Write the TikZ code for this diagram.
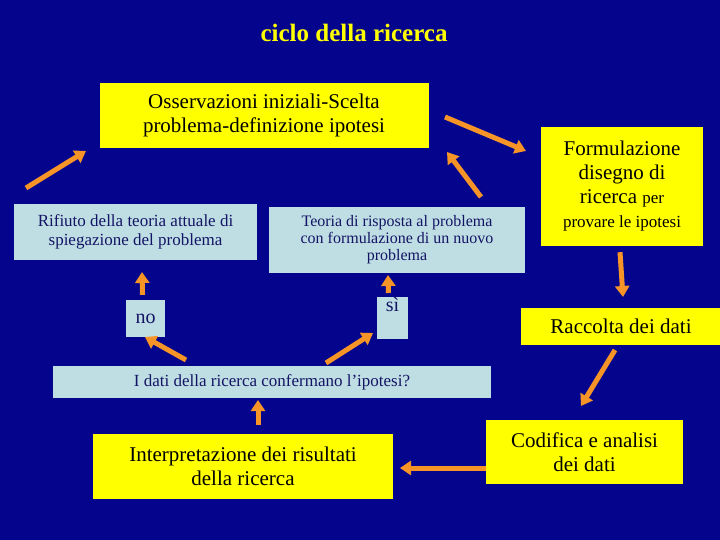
\documentclass[tikz,border=0pt]{standalone}
\usepackage{fontspec}
\setmainfont{Liberation Serif}
\usetikzlibrary{arrows.meta}
\definecolor{bg}{RGB}{4,4,140}
\definecolor{ylw}{RGB}{255,255,0}
\definecolor{lblue}{RGB}{190,222,228}
\definecolor{navy}{RGB}{20,20,100}
\definecolor{orng}{RGB}{247,148,40}
\tikzset{
  ybox/.style={fill=ylw,text=black,align=center,inner sep=0pt,font=\fontsize{21}{24}\selectfont},
  bbox/.style={fill=lblue,text=navy,align=center,inner sep=0pt,font=\fontsize{17}{19}\selectfont},
  arr/.style={draw=orng,line width=5pt,-{Triangle[width=14pt,length=11pt]}}
}
\begin{document}
\begin{tikzpicture}[x=1pt,y=-1pt]
\fill[bg] (0,0) rectangle (720,540);
\useasboundingbox (0,0) rectangle (720,540);
\node[text=ylw,font=\bfseries\fontsize{25}{28}\selectfont] (title) at (354,33) {ciclo della ricerca};
\node[ybox,minimum width=329pt,minimum height=65pt] (oss) at (264,115.5) {Osservazioni iniziali-Scelta\\problema-definizione ipotesi};
\node[bbox,minimum width=243pt,minimum height=56pt] (rif) at (135.5,232) {Rifiuto della teoria attuale di\\spiegazione del problema};
\node[bbox,minimum width=256pt,minimum height=66pt,font=\fontsize{16}{17}\selectfont] (teo) at (397,240) {Teoria di risposta al problema\\con formulazione di un nuovo\\problema};
\node[ybox,minimum width=162pt,minimum height=119pt] (form) at (622,186.5) {Formulazione\\disegno di\\ricerca {\fontsize{17}{20}\selectfont per}\\{\fontsize{17}{20}\selectfont provare le ipotesi}};
\node[bbox,minimum width=39pt,minimum height=37pt,font=\fontsize{20}{22}\selectfont] (no) at (145.5,318.5) {no};
\node[bbox,minimum width=31pt,minimum height=38pt,font=\fontsize{20}{22}\selectfont,anchor=north] (si) at (392.5,297) {\raisebox{0pt}{sì}\\[6pt]};
\node[ybox,minimum width=200pt,minimum height=37pt] (racc) at (621,326.5) {Raccolta dei dati};
\node[bbox,minimum width=438pt,minimum height=32pt] (idati) at (272,382) {I dati della ricerca confermano l’ipotesi?};
\node[ybox,minimum width=300pt,minimum height=65pt] (interp) at (243,466.5) {Interpretazione dei risultati\\della ricerca};
\node[ybox,minimum width=197pt,minimum height=64pt] (cod) at (584.5,452) {Codifica e analisi\\dei dati};
\coordinate (a1s) at (26,188); \coordinate (a1e) at (86,151);
\coordinate (a2s) at (445,117); \coordinate (a2e) at (526,151);
\coordinate (a3s) at (481,197); \coordinate (a3e) at (447,152);
\draw[arr] (a1s) -- (a1e);
\draw[arr] (a2s) -- (a2e);
\draw[arr] (a3s) -- (a3e);
\draw[arr] (form.south -| 620,0) ++(0,6) -- (623,297);
\draw[arr] (615,350) -- (581,406);
\draw[arr] (cod.west |- 0,468) -- (400,468);
\draw[arr] (interp.north -| 258,0) ++(0,-9) -- (258,400);
\draw[arr] (186,360) -- (145,337);
\draw[arr] (326,363) -- (373,333);
\draw[arr] (no.north) ++(-3,-5) -- (142,272);
\draw[arr] (si.north) ++(-4,-4) -- (388,275);
\end{tikzpicture}
\end{document}
